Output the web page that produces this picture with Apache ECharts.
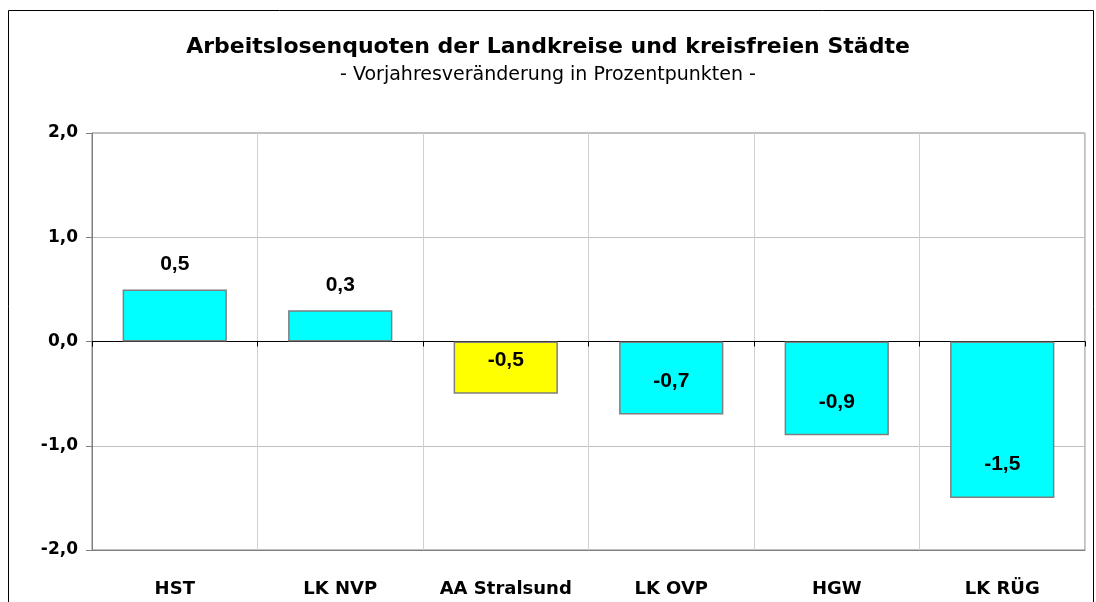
<!DOCTYPE html>
<html>
<head>
<meta charset="utf-8">
<script src="https://cdn.jsdelivr.net/npm/echarts@6/dist/echarts.min.js"></script>
<style>
  html, body { margin: 0; padding: 0; background: #fff; }
  #main { width: 1096px; height: 602px; }
</style>
</head>
<body>
<div id="main"></div>
<script>
    var categories = ['HST', 'LK NVP', 'AA Stralsund', 'LK OVP', 'HGW', 'LK RÜG'];
    var values = [0.5, 0.3, -0.5, -0.7, -0.9, -1.5];
    var barColors = ['#00FFFF', '#00FFFF', '#FFFF00', '#00FFFF', '#00FFFF', '#00FFFF'];

    var chartDom = document.getElementById('main');
    var myChart = echarts.init(chartDom);

    function fmt(v) {
        return v.toFixed(1).replace('.', ',');
    }

    var barData = values.map(function (v, i) {
        return {
            value: v,
            itemStyle: { color: barColors[i] },
            label: v < 0
                ? { position: 'insideBottom', distance: 23 }
                : { position: 'top', distance: 15 }
        };
    });

    var option = {
        animation: false,
        textStyle: { fontFamily: 'DejaVu Sans, sans-serif' },
        title: {
            text: 'Arbeitslosenquoten der Landkreise und kreisfreien Städte',
            subtext: '- Vorjahresveränderung in Prozentpunkten -',
            left: 'center',
            top: 31,
            itemGap: 8,
            textStyle: { fontFamily: 'DejaVu Sans', fontSize: 22, fontWeight: 'bold', color: '#000' },
            subtextStyle: { fontFamily: 'DejaVu Sans', fontSize: 19, color: '#000' }
        },
        graphic: [{
            type: 'rect',
            shape: { x: 8.5, y: 10.5, width: 1085, height: 600 },
            style: { fill: 'none', stroke: '#000', lineWidth: 1 }
        }],
        grid: {
            left: 92, right: 11, top: 133, bottom: 52,
            show: true, borderColor: '#808080', borderWidth: 1
        },
        xAxis: [{
            type: 'category',
            data: categories,
            position: 'bottom',
            axisLine: { onZero: false, lineStyle: { color: '#808080' } },
            axisTick: { show: false },
            axisLabel: {
                interval: 0, margin: 30, fontFamily: 'DejaVu Sans', fontSize: 18,
                fontWeight: 'bold', color: '#000'
            },
            splitLine: { show: true, interval: 0, lineStyle: { color: '#d0d0d0' } }
        }, {
            type: 'category',
            data: categories,
            position: 'top',
            axisLine: { onZero: true, lineStyle: { color: '#000' } },
            axisTick: { show: true, inside: true, interval: 0, length: 5, lineStyle: { color: '#000' } },
            axisLabel: { show: false }
        }],
        yAxis: {
            type: 'value',
            min: -2,
            max: 2,
            interval: 1,
            axisLine: { show: true, lineStyle: { color: '#808080' } },
            axisTick: { show: true, length: 6, lineStyle: { color: '#808080' } },
            axisLabel: {
                margin: 14, fontFamily: 'DejaVu Sans', fontSize: 17, fontWeight: 'bold', color: '#000',
                formatter: function (v) { return fmt(v); }
            },
            splitLine: { lineStyle: { color: '#c0c0c0' } }
        },
        series: [{
            type: 'bar',
            data: barData,
            barWidth: '63%',
            itemStyle: { borderColor: '#7f7f7f', borderWidth: 1.5 },
            label: {
                show: true,
                fontFamily: 'Liberation Sans, Arial, sans-serif',
                fontSize: 21,
                fontWeight: 'bold',
                color: '#000',
                formatter: function (p) { return fmt(p.value); }
            }
        }]
    };

    myChart.setOption(option);
</script>
</body>
</html>
